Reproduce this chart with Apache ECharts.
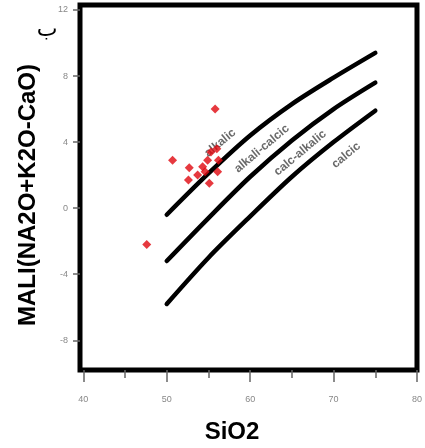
<!DOCTYPE html>
<html>
<head>
<meta charset="utf-8">
<script src="https://cdn.jsdelivr.net/npm/echarts@6/dist/echarts.min.js"></script>
<style>html,body{margin:0;padding:0;background:#fff}#c{width:425px;height:448px}</style>
</head>
<body>
<div id="c"></div>
<script>
// Boundary curves (SiO2 vs MALI)
const lineSiO2 = [50, 55, 60, 65, 70, 75];
const boundaryAlkalic = [-0.4, 2.1, 4.4, 6.3, 7.9, 9.4];
const boundaryAlkaliCalcic = [-3.2, -0.6, 1.9, 4.1, 6.0, 7.6];
const boundaryCalcAlkalic = [-5.8, -3.0, -0.5, 1.9, 4.0, 5.9];

// Samples
const sampleSiO2 = [55.8, 50.7, 52.7, 52.6, 55.1, 53.7, 54.3, 54.9, 55.3, 56.0, 56.2, 56.1, 47.6, 54.6];
const sampleMALI = [6.0, 2.9, 2.45, 1.7, 1.5, 2.0, 2.5, 2.9, 3.4, 3.6, 2.9, 2.2, -2.2, 2.2];

// Field labels
const fieldNames = ['alkalic', 'alkali-calcic', 'calc-alkalic', 'calcic'];
const fieldSiO2 = [56.4, 61.4, 66.0, 71.5];
const fieldMALI = [3.95, 3.6, 3.34, 3.2];

// Ticks
const xLabelTicks = [40, 50, 60, 70, 80];
const xMinorTicks = [45, 55, 65, 75];
const yLabelTicks = [-8, -4, 0, 4, 8, 12];

const FONT = 'Liberation Sans, Arial, sans-serif';
const zip = (a, b) => a.map((v, i) => [v, b[i]]);

const lineStyle = { color: '#000', width: 4.5, cap: 'round' };
const mkLine = (ys) => ({
  type: 'line', data: zip(lineSiO2, ys), smooth: 0.3, symbol: 'none',
  lineStyle: lineStyle, z: 3, silent: true
});

const chart = echarts.init(document.getElementById('c'));
chart.setOption({
  animation: false,
  grid: { left: 80, right: 8, top: 5, bottom: 78, show: true, borderWidth: 5, borderColor: '#000', backgroundColor: '#fff' },
  xAxis: [{
    type: 'value', min: 39.6, max: 80, position: 'bottom',
    axisLine: { show: false, onZero: false }, splitLine: { show: false },
    axisTick: { show: true, customValues: xLabelTicks, length: 12, lineStyle: { color: '#666', width: 1.5 } },
    axisLabel: { customValues: xLabelTicks, margin: 25, color: '#888', fontSize: 9, fontFamily: FONT }
  }, {
    type: 'value', min: 39.6, max: 80, position: 'bottom',
    axisLine: { show: false, onZero: false }, splitLine: { show: false },
    axisTick: { show: true, customValues: xMinorTicks, length: 8, lineStyle: { color: '#666', width: 1.5 } },
    axisLabel: { show: false }
  }],
  yAxis: {
    type: 'value', min: -9.8, max: 12.3,
    axisLine: { show: false, onZero: false }, splitLine: { show: false },
    axisTick: { show: true, customValues: yLabelTicks, length: 7, lineStyle: { color: '#666', width: 1.5 } },
    axisLabel: { customValues: yLabelTicks, margin: 12, color: '#888', fontSize: 9, fontFamily: FONT }
  },
  graphic: [
    { type: 'text', x: 232, y: 432, style: { text: 'SiO2', fontSize: 24, fontWeight: 'bold', fontFamily: FONT, fill: '#000', textAlign: 'center', textVerticalAlign: 'middle' } },
    { type: 'text', x: 28, y: 195, rotation: Math.PI / 2, style: { text: 'MALI(NA2O+K2O-CaO)', fontSize: 24, fontWeight: 'bold', fontFamily: FONT, fill: '#000', textAlign: 'center', textVerticalAlign: 'middle' } },
    { type: 'text', x: 47, y: 30, style: { text: 'ب', fontSize: 22, fontFamily: 'DejaVu Sans, sans-serif', fill: '#000', textAlign: 'center', textVerticalAlign: 'middle' } }
  ],
  series: [
    mkLine(boundaryAlkalic),
    mkLine(boundaryAlkaliCalcic),
    mkLine(boundaryCalcAlkalic),
    {
      type: 'scatter', data: fieldNames.map((n, i) => ({ name: n, value: [fieldSiO2[i], fieldMALI[i]] })),
      symbolSize: 0, z: 4, silent: true,
      label: { show: true, position: 'inside', formatter: '{b}', rotate: 40, fontSize: 12, fontWeight: 'bold', fontFamily: FONT, color: '#444' }
    },
    {
      type: 'scatter', data: zip(sampleSiO2, sampleMALI), symbol: 'diamond', symbolSize: 9,
      itemStyle: { color: '#e0080f' }, z: 5
    }
  ]
});
</script>
</body>
</html>
